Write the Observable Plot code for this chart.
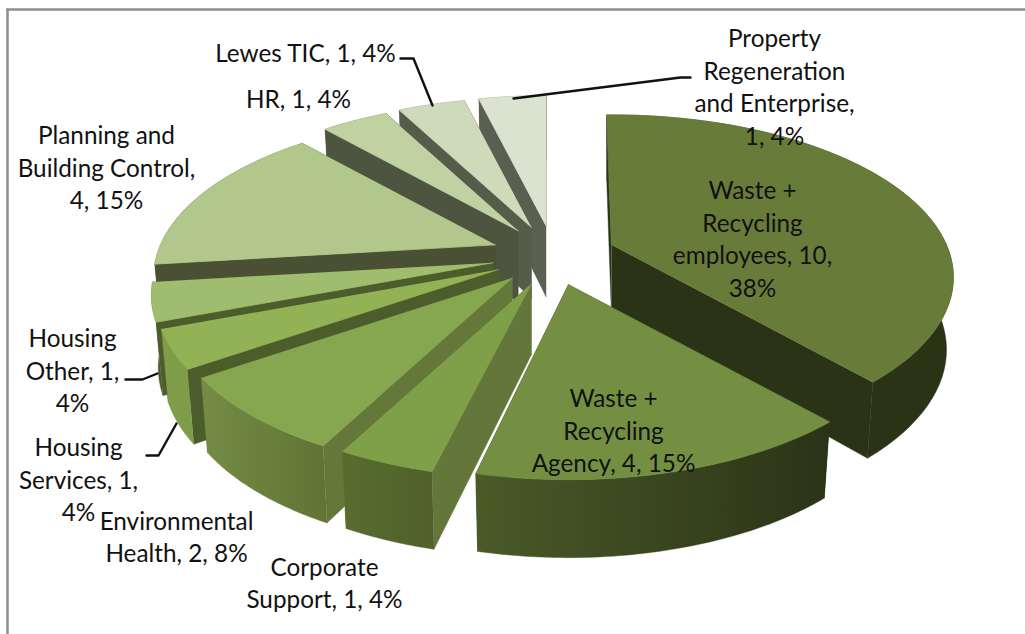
<!DOCTYPE html>
<html>
<head>
<meta charset="utf-8">
<style>html,body{margin:0;padding:0;background:#fff}svg{display:block}</style>
<script src="https://cdn.jsdelivr.net/npm/d3@7"></script>
<script src="https://cdn.jsdelivr.net/npm/@observablehq/plot@0.6"></script>
</head>
<body>
<div id="chart"></div>
<script>
// Data, clockwise from the top of the pie
const departments = ["Waste + Recycling employees","Waste + Recycling Agency","Corporate Support","Environmental Health","Housing Services","Housing Other","Planning and Building Control","HR","Lewes TIC","Property Regeneration and Enterprise"];
const counts = [10,4,1,2,1,1,4,1,1,1];
const labelTexts = ["Waste +\nRecycling\nemployees, 10,\n38%","Waste +\nRecycling\nAgency, 4, 15%","Corporate\nSupport, 1, 4%","Environmental\nHealth, 2, 8%","Housing\nServices, 1,\n4%","Housing\nOther, 1,\n4%","Planning and\nBuilding Control,\n4, 15%","HR, 1, 4%","Lewes TIC, 1, 4%","Property\nRegeneration\nand Enterprise,\n1, 4%"];

// Styling
const topColors = ["#687c3a","#748f42","#7f9f49","#87a650","#92b255","#a0bc6e","#b1c78c","#c1d2a2","#cfdaba","#dae3cf"];
const cutColors = ["#2b3317","#2b3317","#64773a","#64783a","#4c5c2b","#4c5c2b","#4a5033","#4d5540","#565c4a","#5b5f51"];
const rimFrom = ["#2b3317","#4a5a28","#586c30","#748c45","#7f9c48","#4c5c2b","#4a5033","#4d5540","#565c4a","#5b5f51"];
const rimTo = ["#2b3317","#2b3317","#4f6129","#5f7435","#7f9c48","#4c5c2b","#4a5033","#4d5540","#565c4a","#5b5f51"];

// Layout
const labelX = [752,613,324,176,78,72,106,298,305,774];
const labelY = [237,429,581,535,478,369,166,97,51,85];
const leaders = [
  [[400,58],[413,58],[432,105]],
  [[513,98],[680,77],[690,77]],
  [[125,379],[142,379],[157,373]],
  [[146,455],[158,455],[176,423]]
];
const W = 1025, H = 634;
const cx = 553, cy = 255, explodeX = 62, explodeY = 30;
const A = 335, B = 156, q = 0.2, depth = 71;
const firstEdgeLead = 1, agencyEdgeLead = 1; // degrees the picture's edges sit ahead of the share

// Geometry from the shares
const total = d3.sum(counts);
const rimOffset = t => { const s = 1 / (1 + q * Math.cos(t)); return [A * Math.sin(t) * s, -B * Math.cos(t) * s]; };
let acc = 0;
const slices = counts.map((c, i) => {
  let a0 = acc / total * 2 * Math.PI; acc += c;
  let a1 = acc / total * 2 * Math.PI;
  const mid = (a0 + a1) / 2;
  if (i === 0) a0 -= firstEdgeLead * Math.PI / 180;
  if (i === 1) a1 -= agencyEdgeLead * Math.PI / 180;
  const ax = cx + explodeX * Math.sin(mid), ay = cy - explodeY * Math.cos(mid);
  const upper = t => { const [dx, dy] = rimOffset(t); return {x: ax + dx, y: ay + dy}; };
  const lower = t => { const [dx, dy] = rimOffset(t); return {x: ax + dx * 0.98, y: ay + dy + depth / (1 + 0.09 * Math.cos(t))}; };
  const ts = d3.range(0, 61).map(k => a0 + (a1 - a0) * k / 60);
  const apexTop = {x: ax, y: ay}, apexBot = {x: ax, y: ay + depth};
  return {
    i, mid,
    top: [apexTop, ...ts.map(upper)],
    rim: [...ts.map(upper), ...ts.slice().reverse().map(lower)],
    cutA: [apexTop, upper(a0), lower(a0), apexBot],
    cutB: [apexTop, upper(a1), lower(a1), apexBot]
  };
});
const order = slices.slice().sort((a, b) => Math.cos(b.mid) - Math.cos(a.mid));

const poly = (pts, fill, seam) => Plot.line(pts, {x: "x", y: "y", fill, stroke: fill, strokeWidth: seam});
const sliceMarks = order.flatMap(s => [
  poly(s.cutA, cutColors[s.i], 0.4),
  poly(s.cutB, cutColors[s.i], 0.4),
  poly(s.rim, `url(#rim${s.i})`, 0.4),
  poly(s.top, topColors[s.i], 0.8)
]);

const gradients = () => {
  const defs = d3.create("svg:defs");
  counts.forEach((_, i) => {
    const g = defs.append("linearGradient").attr("id", `rim${i}`);
    g.append("stop").attr("offset", 0).attr("stop-color", rimFrom[i]);
    g.append("stop").attr("offset", 1).attr("stop-color", rimTo[i]);
  });
  return defs.node();
};

const labels = departments.map((d, i) => ({department: d, count: counts[i], text: labelTexts[i], x: labelX[i], y: labelY[i]}));

const chart = Plot.plot({
  width: W, height: H,
  margin: 0,
  style: {background: "#fff"},
  x: {domain: [0, W], range: [0, W], axis: null},
  y: {domain: [0, H], range: [0, H], axis: null},
  marks: [
    gradients,
    Plot.ruleX([7], {y1: 9, y2: H, stroke: "#8e8e8e", strokeWidth: 2.5}),
    Plot.ruleY([9], {x1: 6, x2: W, stroke: "#8e8e8e", strokeWidth: 2.5}),
    ...sliceMarks,
    ...leaders.map(l => Plot.line(l.map(([x, y]) => ({x, y})), {x: "x", y: "y", stroke: "#111", strokeWidth: 2.4})),
    Plot.text(labels, {x: "x", y: "y", text: "text", fontFamily: "Lato", fontSize: 24.3, lineHeight: 1.34, fill: "#111", textAnchor: "middle", lineAnchor: "middle"})
  ]
});
document.getElementById("chart").append(chart);
</script>
</body>
</html>
